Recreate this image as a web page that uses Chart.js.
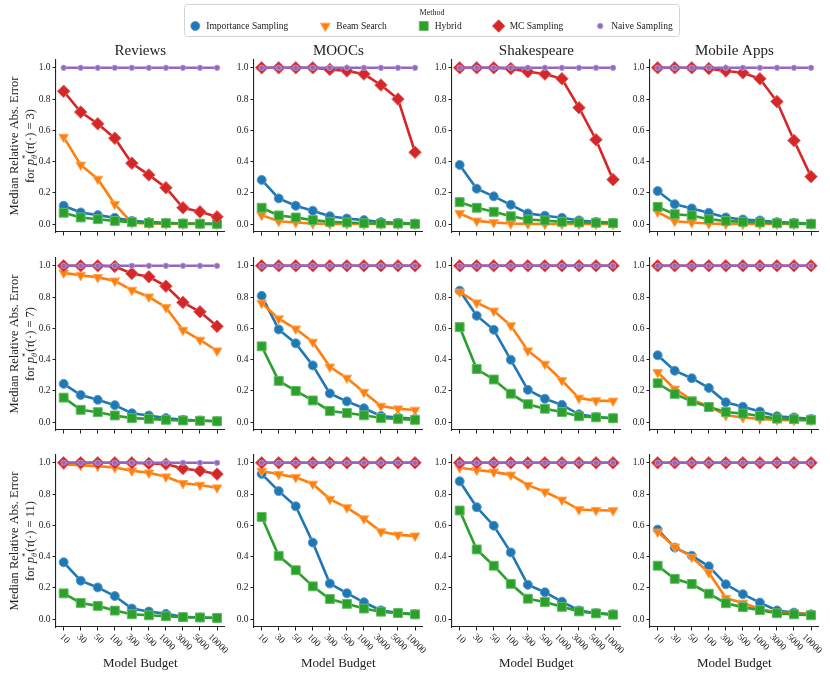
<!DOCTYPE html>
<html>
<head>
<meta charset="utf-8">
<script src="https://cdn.jsdelivr.net/npm/chart.js@4.4.1/dist/chart.umd.min.js"></script>
<style>
  body { margin: 0; background: #fff; }
  #fig { position: relative; width: 830px; height: 677px; overflow: hidden; }
  #fig canvas { position: absolute; }
</style>
</head>
<body>
<div id="fig"></div>
<script>
// ---- data ----
const budgets = ['10', '30', '50', '100', '300', '500', '1000', '3000', '5000', '10000'];
const datasetNames = ['Reviews', 'MOOCs', 'Shakespeare', 'Mobile Apps'];
const depths = [3, 7, 11];
const yTicks = [0, 0.2, 0.4, 0.6, 0.8, 1.0];
const methods = ['Importance Sampling', 'Beam Search', 'Hybrid', 'MC Sampling', 'Naive Sampling'];

// [row = depth][col = dataset]
const importanceSampling = [
  [[0.118, 0.075, 0.058, 0.041, 0.021, 0.013, 0.009, 0.004, 0.003, 0.002],
   [0.283, 0.165, 0.118, 0.086, 0.051, 0.036, 0.026, 0.013, 0.009, 0.004],
   [0.379, 0.227, 0.178, 0.124, 0.069, 0.054, 0.041, 0.024, 0.015, 0.009],
   [0.212, 0.128, 0.101, 0.073, 0.043, 0.030, 0.024, 0.013, 0.009, 0.004]],
  [[0.245, 0.174, 0.143, 0.109, 0.057, 0.043, 0.026, 0.015, 0.011, 0.006],
   [0.808, 0.593, 0.504, 0.363, 0.184, 0.133, 0.089, 0.040, 0.030, 0.021],
   [0.841, 0.681, 0.591, 0.399, 0.207, 0.150, 0.111, 0.050, 0.033, 0.025],
   [0.428, 0.329, 0.281, 0.219, 0.127, 0.099, 0.068, 0.038, 0.030, 0.021]],
  [[0.364, 0.246, 0.203, 0.148, 0.068, 0.049, 0.034, 0.015, 0.011, 0.008],
   [0.929, 0.819, 0.722, 0.490, 0.228, 0.166, 0.108, 0.056, 0.041, 0.031],
   [0.882, 0.716, 0.598, 0.427, 0.220, 0.172, 0.112, 0.056, 0.039, 0.031],
   [0.573, 0.458, 0.406, 0.338, 0.223, 0.160, 0.106, 0.056, 0.042, 0.031]]
];

const beamSearch = [
  [[0.557, 0.379, 0.289, 0.128, 0.008, 0.004, 0.003, 0.002, 0.002, 0.001],
   [0.058, 0.019, 0.011, 0.004, 0.002, 0.002, 0.001, 0.001, 0.001, 0.001],
   [0.069, 0.021, 0.011, 0.004, 0.002, 0.001, 0.001, 0.001, 0.001, 0.001],
   [0.079, 0.019, 0.011, 0.004, 0.002, 0.001, 0.001, 0.001, 0.001, 0.001]],
  [[0.955, 0.940, 0.926, 0.904, 0.845, 0.802, 0.734, 0.589, 0.526, 0.457],
   [0.762, 0.662, 0.597, 0.513, 0.354, 0.283, 0.192, 0.103, 0.086, 0.078],
   [0.833, 0.764, 0.712, 0.618, 0.457, 0.372, 0.267, 0.154, 0.138, 0.136],
   [0.319, 0.213, 0.143, 0.103, 0.044, 0.030, 0.021, 0.015, 0.013, 0.011]],
  [[0.989, 0.985, 0.979, 0.970, 0.949, 0.936, 0.911, 0.869, 0.858, 0.841],
   [0.948, 0.927, 0.907, 0.865, 0.768, 0.714, 0.643, 0.560, 0.539, 0.533],
   [0.969, 0.954, 0.942, 0.923, 0.857, 0.815, 0.763, 0.701, 0.697, 0.695],
   [0.558, 0.463, 0.398, 0.298, 0.135, 0.104, 0.065, 0.044, 0.038, 0.033]]
];

const hybrid = [
  [[0.073, 0.043, 0.032, 0.021, 0.013, 0.008, 0.006, 0.004, 0.003, 0.002],
   [0.105, 0.056, 0.043, 0.026, 0.015, 0.011, 0.006, 0.004, 0.004, 0.002],
   [0.141, 0.105, 0.079, 0.051, 0.030, 0.024, 0.015, 0.011, 0.009, 0.006],
   [0.111, 0.064, 0.056, 0.032, 0.021, 0.015, 0.011, 0.006, 0.004, 0.002]],
  [[0.157, 0.079, 0.064, 0.043, 0.026, 0.021, 0.015, 0.011, 0.009, 0.006],
   [0.485, 0.264, 0.200, 0.139, 0.072, 0.059, 0.044, 0.027, 0.021, 0.015],
   [0.608, 0.340, 0.273, 0.182, 0.115, 0.086, 0.065, 0.038, 0.031, 0.025],
   [0.249, 0.181, 0.133, 0.097, 0.065, 0.055, 0.040, 0.023, 0.019, 0.015]],
  [[0.165, 0.104, 0.085, 0.055, 0.032, 0.025, 0.019, 0.013, 0.011, 0.008],
   [0.654, 0.405, 0.313, 0.210, 0.129, 0.098, 0.068, 0.048, 0.039, 0.031],
   [0.695, 0.446, 0.342, 0.226, 0.131, 0.110, 0.079, 0.050, 0.037, 0.029],
   [0.342, 0.258, 0.225, 0.163, 0.102, 0.077, 0.058, 0.038, 0.031, 0.025]]
];

const mcSampling = [
  [[0.850, 0.717, 0.642, 0.550, 0.390, 0.315, 0.233, 0.105, 0.079, 0.047],
   [1.0, 1.0, 1.0, 1.0, 0.990, 0.980, 0.960, 0.890, 0.800, 0.460],
   [1.0, 1.0, 1.0, 0.995, 0.975, 0.960, 0.930, 0.745, 0.540, 0.285],
   [1.0, 1.0, 1.0, 0.995, 0.980, 0.968, 0.930, 0.784, 0.535, 0.304]],
  [[1.0, 1.0, 1.0, 0.996, 0.951, 0.930, 0.870, 0.766, 0.706, 0.613],
   [1.0, 1.0, 1.0, 1.0, 1.0, 1.0, 1.0, 1.0, 1.0, 1.0],
   [1.0, 1.0, 1.0, 1.0, 1.0, 1.0, 1.0, 1.0, 1.0, 1.0],
   [1.0, 1.0, 1.0, 1.0, 1.0, 1.0, 1.0, 1.0, 1.0, 1.0]],
  [[1.0, 1.0, 1.0, 1.0, 1.0, 0.996, 0.992, 0.964, 0.949, 0.928],
   [1.0, 1.0, 1.0, 1.0, 1.0, 1.0, 1.0, 1.0, 1.0, 1.0],
   [1.0, 1.0, 1.0, 1.0, 1.0, 1.0, 1.0, 1.0, 1.0, 1.0],
   [1.0, 1.0, 1.0, 1.0, 1.0, 1.0, 1.0, 1.0, 1.0, 1.0]]
];

// same in every panel
const naiveSampling = [1.0, 1.0, 1.0, 1.0, 1.0, 1.0, 1.0, 1.0, 1.0, 1.0];

// ---- styles ----
const fontFamily = '"Liberation Serif", "DejaVu Serif", serif';
const ink = '#222222';
const colors = ['#1f77b4', '#ff7f0e', '#2ca02c', '#d62728', '#9467bd'];
const edgeColors = ['#5a9bcb', '#ffa653', '#62bb62', '#e36464', '#b598d4'];
const markerStyles = ['circle', 'triangle', 'rect', 'rectRot', 'circle'];
const markerRadius = [4.5, 5.6, 6.3, 6.3, 2.7];
const markerRotation = [0, 180, 0, 0, 0];

// plot boxes (px)
const plotLefts = [56, 254, 452, 650];
const plotTops = [60, 258, 455];
const plotW = 170, plotH = 172;
const padL = 56, padT = 40, padR = 6, padB = 50;

const fig = document.getElementById('fig');

function seriesFor(row, col) {
  return [
    importanceSampling[row][col],
    beamSearch[row][col],
    hybrid[row][col],
    mcSampling[row][col],
    naiveSampling
  ];
}

// text with sub/superscripts, centred on (0,0) in the current transform
function drawRich(ctx, parts) {
  let total = 0;
  parts.forEach(p => {
    ctx.font = p.font;
    p.w = ctx.measureText(p.text).width;
    if (!p.noAdvance) total += p.adv !== undefined ? p.adv : p.w;
  });
  let x = -total / 2;
  parts.forEach(p => {
    ctx.font = p.font;
    ctx.fillText(p.text, x, p.dy || 0);
    if (!p.noAdvance) x += p.adv !== undefined ? p.adv : p.w;
  });
}

function makePanelText(row, col) {
  return {
    id: 'panelText',
    afterDraw(chart) {
      const ctx = chart.ctx;
      const a = chart.chartArea;
      const cx = (a.left + a.right) / 2;
      ctx.save();
      ctx.fillStyle = ink;

      if (row === 0) {
        ctx.font = '15px ' + fontFamily;
        ctx.textAlign = 'center';
        ctx.textBaseline = 'middle';
        ctx.fillText(datasetNames[col], cx, a.top - 9);
      }

      if (row === 2) {
        const xs = chart.scales.x;
        ctx.font = '9.5px ' + fontFamily;
        ctx.textAlign = 'center';
        ctx.textBaseline = 'middle';
        budgets.forEach((b, i) => {
          const x = xs.getPixelForValue(i);
          const w = ctx.measureText(b).width;
          const half = (w + 9.5) * Math.SQRT1_2 / 2;
          ctx.save();
          ctx.translate(x + 1, a.bottom + 5 + half);
          ctx.rotate(Math.PI / 4);
          ctx.fillText(b, 0, 0);
          ctx.restore();
        });
        ctx.font = '13px ' + fontFamily;
        ctx.fillText('Model Budget', cx, a.bottom + 37);
      }

      if (col === 0) {
        const cy = (a.top + a.bottom) / 2;
        const f = '12.5px ' + fontFamily;
        const fi = 'italic 12.5px ' + fontFamily;
        const fs = '8.5px ' + fontFamily;
        const fsi = 'italic 8.5px ' + fontFamily;
        ctx.textAlign = 'left';
        ctx.textBaseline = 'alphabetic';
        ctx.save();
        ctx.translate(a.left - 43, cy);
        ctx.rotate(-Math.PI / 2);
        drawRich(ctx, [{ text: 'Median Relative Abs. Error', font: f, dy: 4.5 }]);
        ctx.restore();

        ctx.save();
        ctx.translate(a.left - 27, cy);
        ctx.rotate(-Math.PI / 2);
        ctx.font = fs;
        const starW = ctx.measureText('*').width;
        ctx.font = fsi;
        const thW = ctx.measureText('θ').width;
        drawRich(ctx, [
          { text: 'for ', font: f, dy: 4.5 },
          { text: 'p', font: fi, dy: 4.5 },
          { text: '*', font: fs, dy: -1.5, noAdvance: true },
          { text: 'θ', font: fsi, dy: 7.5, adv: Math.max(starW, thW) + 1 },
          { text: '(', font: f, dy: 4.5 },
          { text: 'τ', font: fi, dy: 4.5 },
          { text: '(·) = ' + depths[row] + ')', font: f, dy: 4.5 }
        ]);
        ctx.restore();
      }
      ctx.restore();
    }
  };
}

function axisCommon() {
  return {
    grid: { display: true, drawOnChartArea: false, drawTicks: true, tickLength: 3.5, color: ink, tickColor: ink, lineWidth: 1 },
    border: { display: true, color: ink, width: 1.1 }
  };
}

for (let row = 0; row < 3; row++) {
  for (let col = 0; col < 4; col++) {
    const canvas = document.createElement('canvas');
    const w = padL + plotW + padR, h = padT + plotH + padB;
    canvas.width = w;
    canvas.height = h;
    canvas.style.left = (plotLefts[col] - padL) + 'px';
    canvas.style.top = (plotTops[row] - padT) + 'px';
    canvas.style.width = w + 'px';
    canvas.style.height = h + 'px';
    fig.appendChild(canvas);

    const series = seriesFor(row, col);
    const datasets = series.map((vals, k) => ({
      label: methods[k],
      data: vals.map((v, i) => ({ x: i, y: v })),
      borderColor: colors[k],
      backgroundColor: colors[k],
      borderWidth: 2.6,
      pointStyle: markerStyles[k],
      pointRadius: markerRadius[k],
      pointRotation: markerRotation[k],
      pointBackgroundColor: colors[k],
      pointBorderColor: edgeColors[k],
      pointBorderWidth: 1,
      tension: 0,
      clip: false,
      order: 5 - k
    }));

    const xAxis = Object.assign(axisCommon(), {
      type: 'linear',
      min: -0.45,
      max: 9.45,
      afterBuildTicks: s => { s.ticks = budgets.map((b, i) => ({ value: i })); },
      afterFit: s => { s.height = padB; },
      ticks: { display: false }
    });
    const yAxis = Object.assign(axisCommon(), {
      type: 'linear',
      min: -0.05,
      max: 1.05,
      afterBuildTicks: s => { s.ticks = yTicks.map(v => ({ value: v })); },
      afterFit: s => { s.width = padL; },
      ticks: {
        color: ink,
        padding: 2,
        font: { family: fontFamily, size: 9.5 },
        callback: v => Number(v).toFixed(1)
      }
    });

    new Chart(canvas, {
      type: 'line',
      data: { datasets: datasets },
      options: {
        responsive: false,
        animation: false,
        events: [],
        devicePixelRatio: 1,
        layout: { padding: { top: padT, right: padR, left: 0, bottom: 0 } },
        plugins: { legend: { display: false }, tooltip: { enabled: false } },
        scales: { x: xAxis, y: yAxis }
      },
      plugins: [makePanelText(row, col)]
    });
  }
}

// ---- shared legend ----
const legendCanvas = document.createElement('canvas');
legendCanvas.width = 830;
legendCanvas.height = 40;
legendCanvas.style.left = '0px';
legendCanvas.style.top = '0px';
fig.appendChild(legendCanvas);

const legendBox = {
  id: 'legendBox',
  afterDraw(chart) {
    const ctx = chart.ctx;
    const x0 = 184.5, y0 = 4.5, x1 = 679.5, y1 = 36.5, r = 3;
    ctx.save();
    ctx.beginPath();
    ctx.moveTo(x0 + r, y0);
    ctx.arcTo(x1, y0, x1, y1, r);
    ctx.arcTo(x1, y1, x0, y1, r);
    ctx.arcTo(x0, y1, x0, y0, r);
    ctx.arcTo(x0, y0, x1, y0, r);
    ctx.closePath();
    ctx.fillStyle = 'rgba(255,255,255,0.85)';
    ctx.fill();
    ctx.strokeStyle = '#d4d4d4';
    ctx.lineWidth = 1;
    ctx.stroke();

    const mid = (x0 + x1) / 2;
    ctx.fillStyle = ink;
    ctx.textAlign = 'center';
    ctx.textBaseline = 'middle';
    ctx.font = '8px ' + fontFamily;
    ctx.fillText('Method', mid, 12.5);

    ctx.font = '9.5px ' + fontFamily;
    const textGap = 11, itemGap = 37;
    const widths = methods.map(m => ctx.measureText(m).width);
    let total = 0;
    widths.forEach((w, k) => { total += textGap + w + (k < methods.length - 1 ? itemGap : 0); });
    let x = mid - total / 2 + 2;
    const y = 26;
    methods.forEach((m, k) => {
      ctx.fillStyle = colors[k];
      ctx.strokeStyle = edgeColors[k];
      const opts = { pointStyle: markerStyles[k], radius: markerRadius[k], rotation: markerRotation[k], borderWidth: 1 };
      if (Chart.helpers && Chart.helpers.drawPoint) {
        Chart.helpers.drawPoint(ctx, opts, x, y);
      } else {
        ctx.beginPath(); ctx.arc(x, y, markerRadius[k], 0, Math.PI * 2); ctx.fill();
      }
      ctx.fillStyle = ink;
      ctx.textAlign = 'left';
      ctx.fillText(m, x + textGap, y);
      x += textGap + widths[k] + itemGap;
    });
    ctx.restore();
  }
};

new Chart(legendCanvas, {
  type: 'line',
  data: { datasets: [] },
  options: {
    responsive: false,
    animation: false,
    events: [],
    devicePixelRatio: 1,
    plugins: { legend: { display: false }, tooltip: { enabled: false } },
    scales: { x: { display: false }, y: { display: false } }
  },
  plugins: [legendBox]
});
</script>
</body>
</html>
